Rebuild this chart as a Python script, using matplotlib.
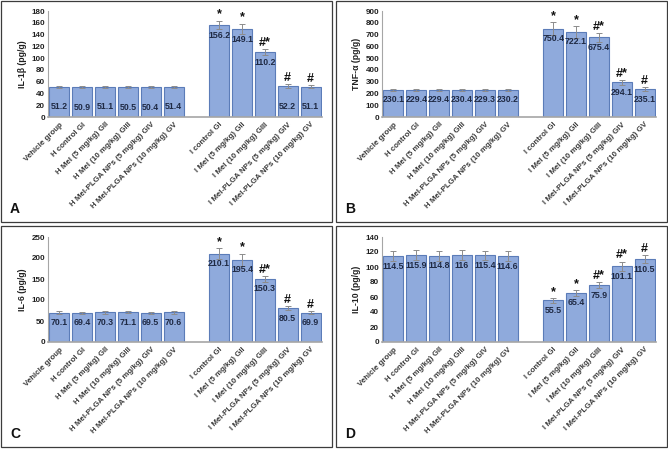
import numpy as np
import matplotlib.pyplot as plt
from matplotlib.patches import Rectangle

# groups (6 healthy, gap, 5 infected)
groups = ['Vehicle group', 'H control GI', 'H Mel (5 mg/kg) GII', 'H Mel (10 mg/kg) GIII',
          'H Mel-PLGA NPs (5 mg/kg) GIV', 'H Mel-PLGA NPs (10 mg/kg) GV',
          'I control GI', 'I Mel (5 mg/kg) GII', 'I Mel (10 mg/kg) GIII',
          'I Mel-PLGA NPs (5 mg/kg) GIV', 'I Mel-PLGA NPs (10 mg/kg) GV']
xpos = [0, 1, 2, 3, 4, 5, 7, 8, 9, 10, 11]

il1b = [51.2, 50.9, 51.1, 50.5, 50.4, 51.4, 156.2, 149.1, 110.2, 52.2, 51.1]
il1b_err = [2, 2, 2, 2, 2, 2, 7, 9, 4.5, 3, 2.5]
il1b_sig = ['', '', '', '', '', '', '*', '*', '#*', '#', '#']

tnf = [230.1, 229.4, 229.4, 230.4, 229.3, 230.2, 750.4, 722.1, 675.4, 294.1, 235.1]
tnf_err = [8, 8, 8, 8, 8, 8, 54, 48, 37, 20, 17]
tnf_sig = ['', '', '', '', '', '', '*', '*', '#*', '#*', '#']

il6 = [70.1, 69.4, 70.3, 71.1, 69.5, 70.6, 210.1, 195.4, 150.3, 80.5, 69.9]
il6_err = [3, 3, 3, 3, 3, 3, 13, 14, 7, 5, 3.5]
il6_sig = ['', '', '', '', '', '', '*', '*', '#*', '#', '#']

il10 = [114.5, 115.9, 114.8, 116, 115.4, 114.6, 55.5, 65.4, 75.9, 101.1, 110.5]
il10_err = [6.5, 6.5, 6.5, 6.5, 6, 6.5, 3, 3.6, 4, 5.8, 5]
il10_sig = ['', '', '', '', '', '', '*', '*', '#*', '#*', '#']

W, H = 668, 449
fig = plt.figure(figsize=(W / 100, H / 100), dpi=100)
plt.rcParams['font.family'] = ['Liberation Sans', 'DejaVu Sans']

bar_col = '#8faadc'
edge_col = '#5b7cb8'
txt_col = '#3a3a3a'


def px_axes(x0, y0, x1, y1):
    return fig.add_axes([x0 / W, 1 - y1 / H, (x1 - x0) / W, (y1 - y0) / H])


panels = [
    (px_axes(48, 11, 322, 117), il1b, il1b_err, il1b_sig, 'IL-1β (pg/g)', 180, 20, 'A', (1, 1)),
    (px_axes(382, 11, 656, 117), tnf, tnf_err, tnf_sig, 'TNF-α (pg/g)', 900, 100, 'B', (336, 1)),
    (px_axes(48, 237, 322, 342), il6, il6_err, il6_sig, 'IL-6 (pg/g)', 250, 50, 'C', (1, 226)),
    (px_axes(382, 237, 656, 342), il10, il10_err, il10_sig, 'IL-10 (pg/g)', 140, 20, 'D', (336, 226)),
]

for ax, vals, errs, sigs, ylab, ymax, step, letter, (bx, by) in panels:
    ax.bar(xpos, vals, width=0.87, color=bar_col, edgecolor=edge_col, linewidth=0.8, zorder=2)
    ax.errorbar(xpos, vals, yerr=errs, fmt='none', ecolor='#8c8c8c', elinewidth=0.7,
                capsize=2, capthick=0.7, zorder=3)
    for x, v, e, s in zip(xpos, vals, errs, sigs):
        drop = 20 if (letter == 'A' and v < 60) else 10
        ax.annotate(f'{v:g}', (x, v), xytext=(0, -drop * 0.72), textcoords='offset points',
                    ha='center', va='center', fontsize=6.3, fontweight='bold', color='#1f2a44',
                    zorder=4)
        if s:
            ax.annotate(s, (x, v + e), xytext=(0, 0.3), textcoords='offset points',
                        ha='center', va='bottom', fontsize=9, fontweight='bold', color='#111111')
    ax.set_xlim(-0.5, 11.5)
    ax.set_ylim(0, ymax)
    ax.set_yticks(np.arange(0, ymax + 1, step))
    ax.tick_params(axis='y', length=0, labelsize=5.8, labelcolor='#202020', pad=2)
    for t in ax.get_yticklabels():
        t.set_fontweight('bold')
    ax.set_xticks(xpos)
    ax.set_xticklabels(groups, rotation=45, ha='right', rotation_mode='anchor',
                       fontsize=5.7, color=txt_col, fontweight='bold')
    ax.tick_params(axis='x', length=0, pad=3)
    ax.set_ylabel(ylab, fontsize=6.3, fontweight='bold', color='#202020', labelpad=3)
    for sp in ['top', 'right']:
        ax.spines[sp].set_visible(False)
    ax.spines['left'].set_color('#a6a6a6')
    ax.spines['left'].set_linewidth(0.8)
    ax.spines['bottom'].set_color('#a6a6a6')
    ax.spines['bottom'].set_linewidth(1.2)
    fig.add_artist(Rectangle((bx / W, 1 - (by + 221) / H), 331 / W, 221 / H,
                             transform=fig.transFigure, fill=False, edgecolor='#3c3c3c',
                             linewidth=0.9))
    fig.text((bx + 9) / W, 1 - (by + 208) / H, letter, fontsize=10, fontweight='bold',
             color='#111111', ha='left', va='center')

fig.savefig('out.png', dpi=100)
